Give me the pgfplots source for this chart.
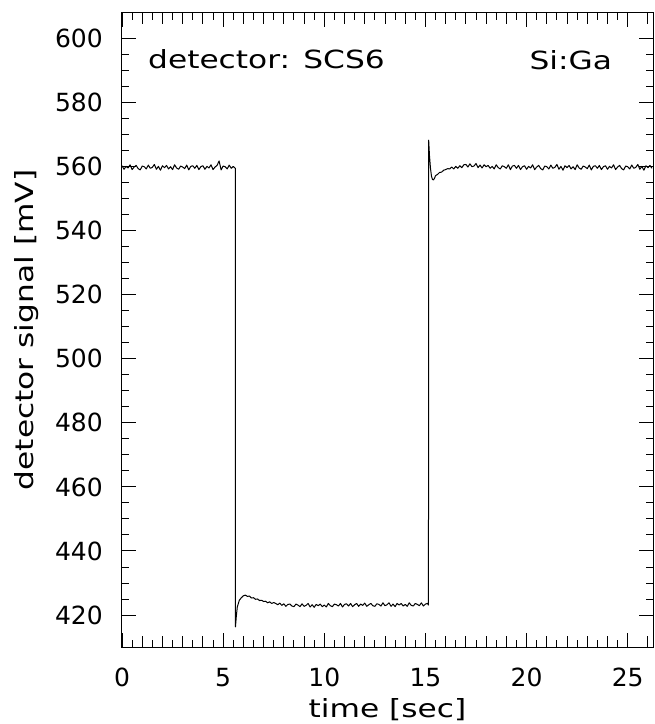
\documentclass[border=0pt]{standalone}
\usepackage{pgfplots}
\pgfplotsset{compat=1.18}
\usepackage{fontspec}
\setmainfont{DejaVu Sans}
\newfontfamily\widefont[FakeStretch=1.25]{DejaVu Sans}
\pgfplotstableread{
t v
0.0 560.3
0.1 559.2
0.2 560.1
0.3 559.6
0.4 560.6
0.5 559.1
0.6 559.9
0.7 560.4
0.8 559.4
0.9 559.0
1.0 560.2
1.1 560.0
1.2 559.3
1.3 560.5
1.4 559.5
1.5 559.8
1.6 560.7
1.7 559.2
1.8 560.1
1.9 558.9
2.0 560.3
2.1 559.7
2.2 560.4
2.3 559.3
2.4 560.0
2.5 559.1
2.6 560.6
2.7 559.6
2.8 559.2
2.9 560.2
3.0 559.9
3.1 559.4
3.2 560.5
3.3 559.0
3.4 560.1
3.5 560.3
3.6 559.5
3.7 560.4
3.8 559.1
3.9 560.0
4.0 560.3
4.1 559.2
4.2 560.1
4.3 559.6
4.4 560.6
4.5 559.1
4.6 559.9
4.7 560.4
4.8 561.8
4.9 559.0
5.0 560.2
5.1 560.0
5.2 559.3
5.3 560.5
5.4 559.5
5.5 560.1
5.60 559.5
5.61 416.3
5.65 419.5
5.7 422.5
5.8 424.6
5.9 425.4
6.0 426.0
6.1 426.2
6.2 425.8
6.3 425.9
6.4 425.3
6.5 425.4
6.6 424.9
6.7 425.0
6.8 424.5
6.9 424.6
7.0 424.2
7.1 424.3
7.2 423.8
7.3 424.1
7.4 423.6
7.5 423.9
7.6 423.6
7.7 423.2
7.8 423.7
7.9 423.0
8.0 423.5
8.1 422.7
8.2 423.3
8.3 423.4
8.4 422.8
8.5 422.6
8.6 423.4
8.7 423.1
8.8 422.6
8.9 423.5
9.0 422.7
9.1 423.0
9.2 423.6
9.3 422.5
9.4 423.2
9.5 422.4
9.6 423.3
9.7 422.9
9.8 423.4
9.9 422.6
10.0 423.1
10.1 422.5
10.2 423.6
10.3 422.9
10.4 422.6
10.5 423.4
10.6 423.2
10.7 422.8
10.8 423.6
10.9 422.5
11.0 423.3
11.1 423.5
11.2 422.8
11.3 423.6
11.4 422.6
11.5 423.2
11.6 423.6
11.7 422.7
11.8 423.4
11.9 423.0
12.0 423.7
12.1 422.7
12.2 423.2
12.3 423.6
12.4 422.9
12.5 422.7
12.6 423.5
12.7 423.3
12.8 422.8
12.9 423.8
13.0 422.9
13.1 423.2
13.2 423.8
13.3 422.7
13.4 423.4
13.5 422.6
13.6 423.6
13.7 423.1
13.8 423.6
13.9 422.8
14.0 423.3
14.1 422.7
14.2 423.8
14.3 423.0
14.4 422.8
14.5 423.6
14.6 423.3
14.7 422.9
14.8 423.8
14.9 422.8
15.0 423.4
15.1 423.6
15.15 423.1
15.16 568.3
15.2 563.5
15.25 559.5
15.3 557.0
15.35 556.0
15.4 555.9
15.45 556.4
15.5 557.2
15.6 557.6
15.7 558.2
15.8 558.3
15.9 558.9
16.0 559.1
16.1 559.4
16.2 559.3
16.3 559.9
16.4 559.3
16.5 560.1
16.6 559.5
16.7 560.3
16.8 559.7
16.9 560.6
17.0 560.7
17.1 559.9
17.2 560.9
17.3 560.0
17.4 560.2
17.5 561.0
17.6 559.7
17.7 560.5
17.8 559.6
17.9 560.6
18.0 560.0
18.1 560.4
18.2 559.5
18.3 560.1
18.4 559.3
18.5 560.6
18.6 559.7
18.7 559.3
18.8 560.3
18.9 560.0
19.0 559.5
19.1 560.6
19.2 559.1
19.3 560.2
19.4 560.4
19.5 559.5
19.6 560.4
19.7 559.1
19.8 560.0
19.9 560.3
20.0 559.2
20.1 560.1
20.2 559.6
20.3 560.6
20.4 559.1
20.5 559.9
20.6 560.4
20.7 559.4
20.8 559.0
20.9 560.2
21.0 560.0
21.1 559.3
21.2 560.5
21.3 559.5
21.4 559.8
21.5 560.7
21.6 559.2
21.7 560.1
21.8 558.9
21.9 560.3
22.0 559.7
22.1 560.4
22.2 559.3
22.3 560.0
22.4 559.1
22.5 560.6
22.6 559.6
22.7 559.2
22.8 560.2
22.9 559.9
23.0 559.4
23.1 560.5
23.2 559.0
23.3 560.1
23.4 560.3
23.5 559.5
23.6 560.4
23.7 559.1
23.8 560.0
23.9 560.3
24.0 559.2
24.1 560.1
24.2 559.6
24.3 560.6
24.4 559.1
24.5 559.9
24.6 560.4
24.7 559.4
24.8 559.0
24.9 560.2
25.0 560.0
25.1 559.3
25.2 560.5
25.3 559.5
25.4 559.8
25.5 560.7
25.6 559.2
25.7 560.1
25.8 558.9
25.9 560.3
26.0 559.7
26.1 560.4
26.2 559.5
}\signal
\begin{document}
\begin{tikzpicture}
\useasboundingbox (-122pt,-77pt) rectangle (533pt,647pt);
\begin{axis}[
  at={(0pt,0pt)}, anchor=south west,
  scale only axis, width=531pt, height=634pt,
  xmin=0, xmax=26.25, ymin=410, ymax=608,
  xtick={0,5,...,25}, minor x tick num=9,
  ytick={420,440,...,600}, minor y tick num=3,
  extra x ticks={1,2,3,4,6,7,8,9,11,12,13,14,16,17,18,19,21,22,23,24,26},
  extra x tick labels={},
  extra x tick style={major tick length=11pt, grid=none},
  tick align=inside,
  major tick length=14pt, minor tick length=7pt,
  every tick/.style={black, line width=0.9pt},
  axis line style={line width=1pt},
  /pgf/number format/assume math mode=true,
  tick label style={font=\fontsize{25}{30}\selectfont, inner sep=0pt},
  yticklabel style={xshift=-19pt},
  xticklabel style={yshift=-21pt},
  xlabel={\widefont\fontsize{25}{30}\selectfont time [sec]},
  ylabel={\widefont\fontsize{25}{30}\selectfont detector signal [mV]},
  xlabel style={at={(axis description cs:0.5,-0.099)}, anchor=center, inner sep=0pt},
  ylabel style={at={(axis description cs:-0.18,0.5)}, anchor=center, inner sep=0pt},
  clip=true,
]
\addplot[black, line width=1.0pt, line join=round] table[x=t, y=v] {\signal};
\node[anchor=west, inner sep=0pt, font=\widefont\fontsize{25}{30}\selectfont] at (rel axis cs:0.049,0.927) {detector: SCS6};
\node[anchor=east, inner sep=0pt, font=\widefont\fontsize{25}{30}\selectfont] at (rel axis cs:0.923,0.925) {Si:Ga};
\end{axis}
\end{tikzpicture}
\end{document}
